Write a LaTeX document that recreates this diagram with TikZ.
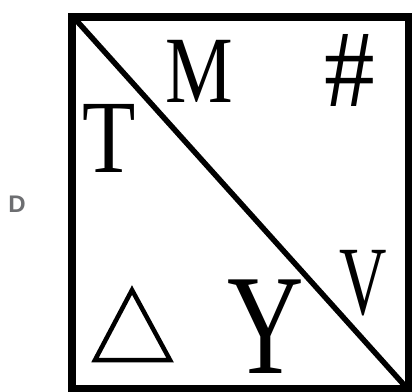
\documentclass[tikz,border=0pt]{standalone}
\usepackage{fontspec}
\setmainfont{Liberation Serif}
\setsansfont{Liberation Sans}
\definecolor{labelgray}{HTML}{6D6E71}
\tikzset{
  glyph/.style={inner sep=0pt, anchor=base, text depth=0pt},
  framebox/.style={line width=7.5pt},
  cutline/.style={line width=5.5pt},
  tribox/.style={line width=4.5pt, line join=miter},
}
\begin{document}
\begin{tikzpicture}[x=1pt, y=-1pt]
  \useasboundingbox (0,0) rectangle (412,391);
  % Frame and diagonal
  \draw[framebox] (72,17) rectangle (408.5,388.5);
  \draw[cutline] (76,20) -- (405,386);
  % Upper half
  \node[glyph, font=\fontsize{95}{95}\selectfont] at (199,102) (M) {\scalebox{0.8}[1]{M}};
  \node[glyph, font=\fontsize{110}{110}\selectfont] at (350,106) (hash) {\scalebox{0.92}[1]{\#}};
  % Lower half
  \node[glyph, font=\fontsize{104}{104}\selectfont] at (109,172) (T) {\scalebox{0.84}[1]{T}};
  \node[glyph, font=\fontsize{143}{143}\selectfont] at (266,373) (Y) {\scalebox{0.74}[1]{Y}};
  \node[glyph, font=\fontsize{98}{98}\selectfont] at (363.5,314) (V) {\scalebox{0.67}[1]{V}};
  \draw[tribox] (132,290) -- (170,360) -- (95,360) -- cycle;
  % Label
  \node[glyph, font=\sffamily\bfseries\fontsize{24}{24}\selectfont,
    text=labelgray] at (17,212) (D) {D};
\end{tikzpicture}
\end{document}
